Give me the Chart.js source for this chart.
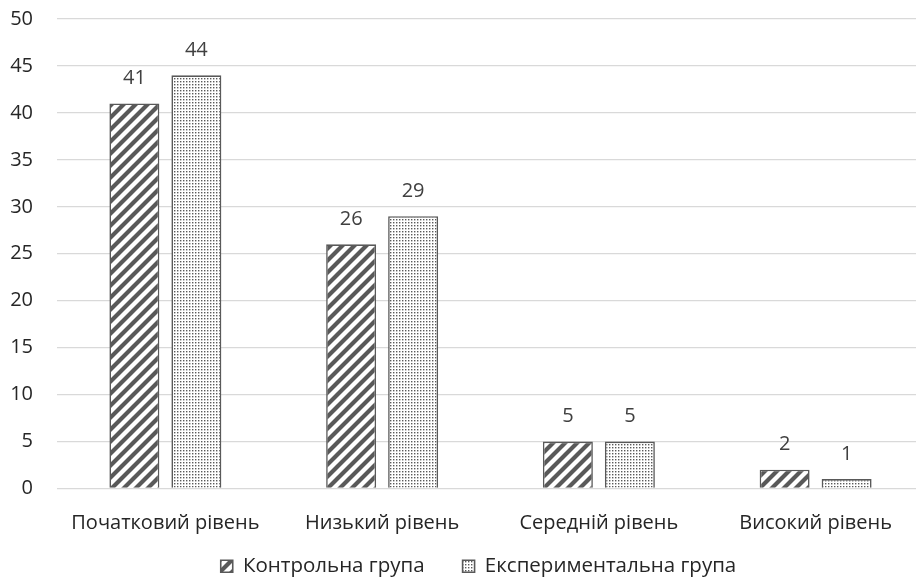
<!DOCTYPE html>
<html>
<head>
<meta charset="utf-8">
<script src="https://cdn.jsdelivr.net/npm/chart.js@4.4.1/dist/chart.umd.min.js"></script>
<style>
  html, body { margin: 0; padding: 0; background: #fff; overflow: hidden; }
  #wrap { width: 924px; height: 621px; position: relative; }
</style>
</head>
<body>
<div id="wrap"><canvas id="chart"></canvas></div>
<script>
const categories = ['Початковий рівень', 'Низький рівень', 'Середній рівень', 'Високий рівень'];
const controlGroup = [41, 26, 5, 2];
const experimentalGroup = [44, 29, 5, 1];
const seriesNames = ['Контрольна група', 'Експериментальна група'];
const yTicks = [0, 5, 10, 15, 20, 25, 30, 35, 40, 45, 50];

const FONT = '"Open Sans", Lato, sans-serif';
const EDGE = '#595959';

// Wide upward diagonal hatch
function stripePattern() {
  const c = document.createElement('canvas');
  const s = 12;
  c.width = s; c.height = s;
  const g = c.getContext('2d');
  g.fillStyle = '#fff';
  g.fillRect(0, 0, s, s);
  g.strokeStyle = EDGE;
  g.lineWidth = 4.2;
  g.beginPath();
  for (let k = -1; k <= 1; k++) {
    g.moveTo(k * s - 2, s + 2);
    g.lineTo(k * s + s + 2, -2);
  }
  g.stroke();
  return g.createPattern(c, 'repeat');
}

// Fine dotted grid
function dotPattern() {
  const c = document.createElement('canvas');
  const s = 3;
  c.width = s; c.height = s;
  const g = c.getContext('2d');
  g.fillStyle = '#fff';
  g.fillRect(0, 0, s, s);
  g.fillStyle = '#5a5a5a';
  g.fillRect(0, 0, 1.4, 1.4);
  return g.createPattern(c, 'repeat');
}

// Value printed above each bar
const valueLabels = {
  id: 'valueLabels',
  afterDatasetsDraw(chart) {
    const ctx = chart.ctx;
    ctx.save();
    ctx.font = '20px ' + FONT;
    ctx.fillStyle = '#404040';
    ctx.textAlign = 'center';
    ctx.textBaseline = 'middle';
    chart.data.datasets.forEach((ds, i) => {
      chart.getDatasetMeta(i).data.forEach((bar, j) => {
        ctx.fillText(String(ds.data[j]), bar.x, bar.y - 25);
      });
    });
    ctx.restore();
  }
};

// Moves the legend row up under the category labels and nudges it right
const placeLegend = {
  id: 'placeLegend',
  afterLayout(chart) {
    const lg = chart.legend;
    if (!lg) return;
    const lift = lg.top - 518;
    lg.top -= lift;
    lg.bottom -= lift;
    lg.left += 24;
  }
};

new Chart(document.getElementById('chart'), {
  type: 'bar',
  data: {
    labels: categories,
    datasets: [
      {
        label: seriesNames[0],
        data: controlGroup,
        backgroundColor: stripePattern(),
        borderColor: EDGE,
        borderWidth: 1.6,
        categoryPercentage: 0.572,
        barPercentage: 0.806
      },
      {
        label: seriesNames[1],
        data: experimentalGroup,
        backgroundColor: dotPattern(),
        borderColor: EDGE,
        borderWidth: 1.6,
        categoryPercentage: 0.572,
        barPercentage: 0.806
      }
    ]
  },
  options: {
    responsive: true,
    maintainAspectRatio: false,
    animation: false,
    layout: { padding: { left: 9, right: 0, top: 19, bottom: 0 } },
    scales: {
      x: {
        grid: { display: false },
        border: { display: false },
        ticks: { color: '#262626', font: { family: FONT, size: 20 }, padding: 15, maxRotation: 0, minRotation: 0 },
        afterFit(axis) {
          axis.height = 64;
          axis.paddingLeft = 0;
          axis.paddingRight = 0;
        }
      },
      y: {
        min: 0,
        max: 50,
        afterBuildTicks(axis) { axis.ticks = yTicks.map(v => ({ value: v })); },
        grid: { color: '#d9d9d9', lineWidth: 1.3, drawTicks: false },
        border: { display: false },
        ticks: { color: '#262626', font: { family: FONT, size: 20 }, padding: 24 },
        afterFit(axis) {
          axis.width = 48;
          axis.paddingTop = 0;
          axis.paddingBottom = 0;
        }
      }
    },
    plugins: {
      legend: {
        position: 'bottom',
        labels: {
          color: '#262626',
          font: { family: FONT, size: 20.5 },
          boxWidth: 12,
          boxHeight: 12,
          padding: 38
        }
      },
      tooltip: { enabled: false }
    }
  },
  plugins: [valueLabels, placeLegend]
});
</script>
</body>
</html>
